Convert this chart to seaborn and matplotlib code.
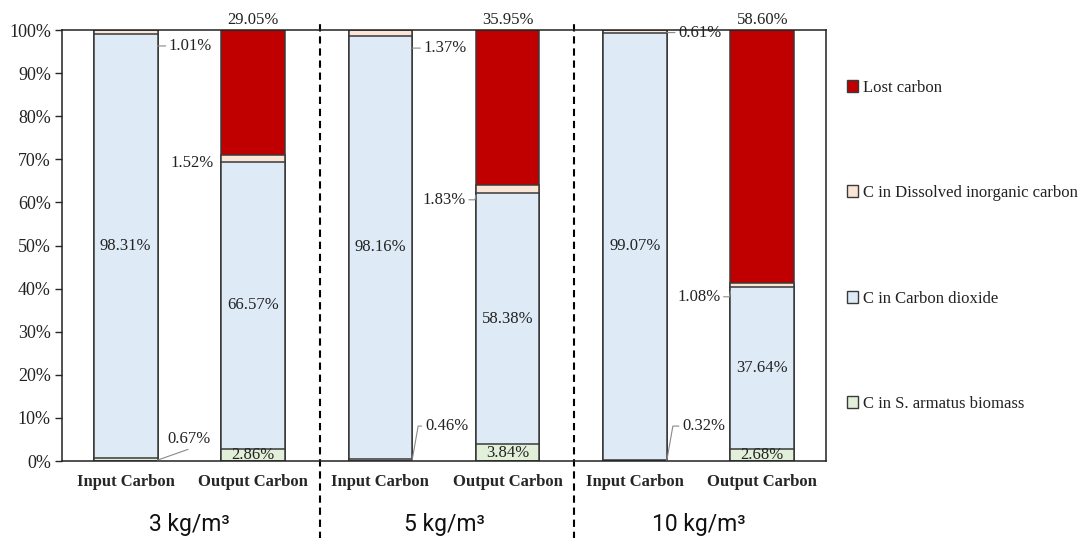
import numpy as np
import pandas as pd
import matplotlib
matplotlib.use("Agg")
import matplotlib.pyplot as plt
from matplotlib.patches import Patch
import seaborn as sns

# ---- data (percent of carbon) ----
groups = ["3 kg/m³", "5 kg/m³", "10 kg/m³"]
streams = ["Input Carbon", "Output Carbon"]
components = ["C in S. armatus biomass", "C in Carbon dioxide",
              "C in Dissolved inorganic carbon", "Lost carbon"]

biomass_in = [0.67, 0.46, 0.32]
co2_in = [98.31, 98.16, 99.07]
dic_in = [1.01, 1.37, 0.61]
lost_in = [0.0, 0.0, 0.0]

biomass_out = [2.86, 3.84, 2.68]
co2_out = [66.57, 58.38, 37.64]
dic_out = [1.52, 1.83, 1.08]
lost_out = [29.05, 35.95, 58.60]

colors = {
    "C in S. armatus biomass": "#E2F0D9",
    "C in Carbon dioxide": "#DEEBF7",
    "C in Dissolved inorganic carbon": "#FBE5D6",
    "Lost carbon": "#C00000",
}
edge = "#3A3A3A"

# ---- long table ----
rows = []
for g, grp in enumerate(groups):
    for s, stream in enumerate(streams):
        vals = ([biomass_in[g], co2_in[g], dic_in[g], lost_in[g]] if s == 0
                else [biomass_out[g], co2_out[g], dic_out[g], lost_out[g]])
        cum = np.cumsum(vals)
        for c, comp in enumerate(components):
            rows.append(dict(bar=f"{grp} | {stream}", group=grp, stream=stream,
                             component=comp, value=vals[c], top=cum[c]))
df = pd.DataFrame(rows)
bar_order = list(dict.fromkeys(df["bar"]))

# ---- figure ----
sns.set_style("white")
plt.rcParams["font.family"] = ["Liberation Serif", "DejaVu Serif"]
fig = plt.figure(figsize=(10.83, 5.38), dpi=100)
ax = fig.add_axes([62 / 1083, 1 - 461 / 538, 764 / 1083, 431 / 538])

# stacked bars: draw cumulative tops from the highest layer down
for comp in reversed(components):
    sub = df[df["component"] == comp]
    sns.barplot(data=sub, x="bar", y="top", order=bar_order, color=colors[comp],
                saturation=1, width=0.5, edgecolor=edge, linewidth=1.1,
                errorbar=None, ax=ax)

ax.set_xlim(-0.5, 5.5)
ax.set_ylim(0, 100)
ax.set_yticks(np.arange(0, 101, 10))
ax.set_yticklabels([f"{v}%" for v in range(0, 101, 10)], fontsize=13, color="#222222")
ax.set_xticks(range(len(bar_order)))
ax.set_xticklabels([streams[i % 2] for i in range(len(bar_order))],
                   fontsize=12, fontweight="bold")
ax.set_xlabel("")
ax.set_ylabel("")
ax.tick_params(axis="y", length=5, width=1, direction="out", left=True, pad=3)
ax.tick_params(axis="x", length=0, pad=9)
for sp in ax.spines.values():
    sp.set_visible(True)
    sp.set_color("#222222")
    sp.set_linewidth(1.1)

lbl = dict(fontsize=12, color="#222222")
line = dict(arrowstyle="-", color="#8A8A8A", lw=0.8, shrinkA=0, shrinkB=0)
bent = dict(line, connectionstyle="angle,angleA=0,angleB=80,rad=0")

# label layout (text anchor positions)
in_dic_y = [96.3, 95.8, 99.4]
in_bio_text = [(0.33, 5.0), (0.35, 8.1), (0.37, 8.1)]
out_dic_y = [69.1, 60.6, 38.1]

for g in range(len(groups)):
    xi, xo = 2 * g, 2 * g + 1
    # input bar
    ax.text(xi, biomass_in[g] + co2_in[g] / 2, f"{co2_in[g]:.2f}%", ha="center", va="center", **lbl)
    ax.annotate(f"{dic_in[g]:.2f}%", xy=(xi + 0.25, in_dic_y[g]),
                xytext=(xi + 0.25 + 0.09, in_dic_y[g]), ha="left", va="center",
                arrowprops=line, **lbl)
    tx, ty = in_bio_text[g]
    if g == 0:
        ax.text(xi + tx, ty, f"{biomass_in[g]:.2f}%", ha="left", va="center", **lbl)
        ax.annotate("", xy=(xi + 0.25, 0.2), xytext=(xi + 0.49, 2.7), arrowprops=line)
    else:
        ax.annotate(f"{biomass_in[g]:.2f}%", xy=(xi + 0.25, biomass_in[g] / 2),
                    xytext=(xi + tx, ty), ha="left", va="center", arrowprops=bent, **lbl)
    # output bar
    ax.text(xo, biomass_out[g] + co2_out[g] / 2, f"{co2_out[g]:.2f}%", ha="center", va="center", **lbl)
    ax.text(xo, biomass_out[g] / 2, f"{biomass_out[g]:.2f}%", ha="center", va="center",
            clip_on=True, **lbl)
    ax.text(xo, 100.4, f"{lost_out[g]:.2f}%", ha="center", va="bottom", **lbl)
    dic_mid = biomass_out[g] + co2_out[g] + dic_out[g] / 2
    if g == 0:
        ax.text(xo - 0.31, out_dic_y[g], f"{dic_out[g]:.2f}%", ha="right", va="center", **lbl)
    else:
        ax.annotate(f"{dic_out[g]:.2f}%", xy=(xo - 0.25, dic_mid - 1.5),
                    xytext=(xo - 0.33, out_dic_y[g]), ha="right", va="center",
                    arrowprops=bent, **lbl)

# dividers between concentration groups
for xd in [1.53, 3.52]:
    ax.plot([xd, xd], [-18, 102], color="black", lw=1.5, ls=(0, (3.5, 2.3)), clip_on=False)

# group captions
for g, grp in enumerate(groups):
    ax.text(2 * g + 0.5, -14.8, grp, ha="center", va="center", fontsize=16.5,
            family=["Roboto", "DejaVu Sans"], color="#111111")

# legend on the right, top to bottom
handles = [Patch(facecolor=colors[c], edgecolor=edge, linewidth=1.0) for c in reversed(components)]
fig.legend(handles, list(reversed(components)), loc="upper left",
           bbox_to_anchor=(840 / 1083, 1 - 73 / 538), frameon=False, fontsize=12,
           handlelength=0.7, handleheight=0.7, handletextpad=0.3,
           labelspacing=5.37, borderaxespad=0, labelcolor="#222222")

fig.savefig("out.png", dpi=100)
